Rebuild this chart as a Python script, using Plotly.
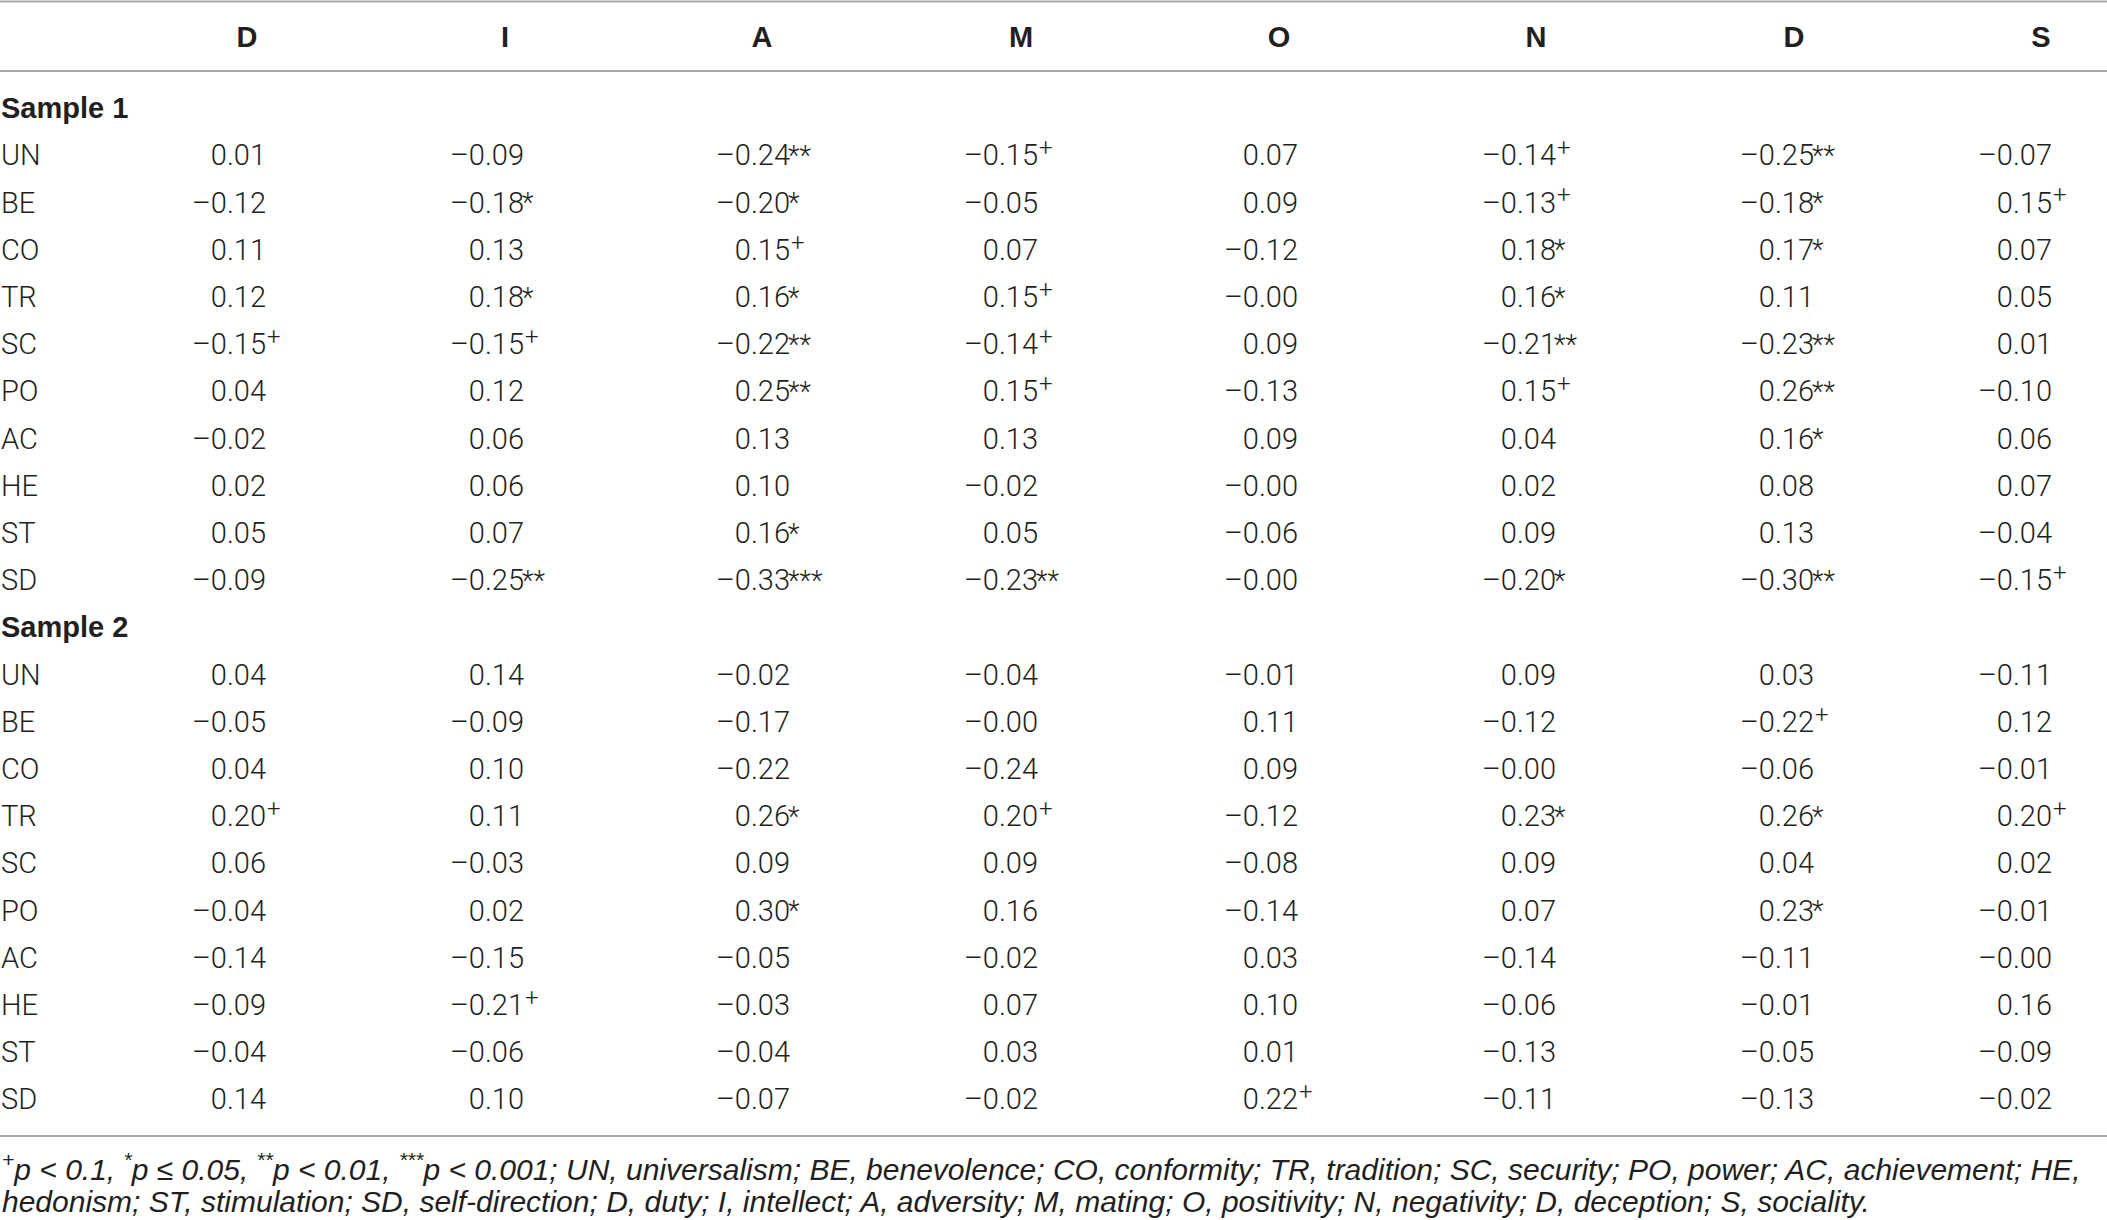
import plotly.graph_objects as go

# Correlations between value types and situation perception (DIAMONDS)
columns = ["D", "I", "A", "M", "O", "N", "D", "S"]
row_labels = ["UN", "BE", "CO", "TR", "SC", "PO", "AC", "HE", "ST", "SD"]
samples = ["Sample 1", "Sample 2"]

sample1_r = [
    [0.01, -0.09, -0.24, -0.15, 0.07, -0.14, -0.25, -0.07],
    [-0.12, -0.18, -0.20, -0.05, 0.09, -0.13, -0.18, 0.15],
    [0.11, 0.13, 0.15, 0.07, -0.12, 0.18, 0.17, 0.07],
    [0.12, 0.18, 0.16, 0.15, -0.00, 0.16, 0.11, 0.05],
    [-0.15, -0.15, -0.22, -0.14, 0.09, -0.21, -0.23, 0.01],
    [0.04, 0.12, 0.25, 0.15, -0.13, 0.15, 0.26, -0.10],
    [-0.02, 0.06, 0.13, 0.13, 0.09, 0.04, 0.16, 0.06],
    [0.02, 0.06, 0.10, -0.02, -0.00, 0.02, 0.08, 0.07],
    [0.05, 0.07, 0.16, 0.05, -0.06, 0.09, 0.13, -0.04],
    [-0.09, -0.25, -0.33, -0.23, -0.00, -0.20, -0.30, -0.15],
]
sample1_sig = [
    ["", "", "**", "+", "", "+", "**", ""],
    ["", "*", "*", "", "", "+", "*", "+"],
    ["", "", "+", "", "", "*", "*", ""],
    ["", "*", "*", "+", "", "*", "", ""],
    ["+", "+", "**", "+", "", "**", "**", ""],
    ["", "", "**", "+", "", "+", "**", ""],
    ["", "", "", "", "", "", "*", ""],
    ["", "", "", "", "", "", "", ""],
    ["", "", "*", "", "", "", "", ""],
    ["", "**", "***", "**", "", "*", "**", "+"],
]

sample2_r = [
    [0.04, 0.14, -0.02, -0.04, -0.01, 0.09, 0.03, -0.11],
    [-0.05, -0.09, -0.17, -0.00, 0.11, -0.12, -0.22, 0.12],
    [0.04, 0.10, -0.22, -0.24, 0.09, -0.00, -0.06, -0.01],
    [0.20, 0.11, 0.26, 0.20, -0.12, 0.23, 0.26, 0.20],
    [0.06, -0.03, 0.09, 0.09, -0.08, 0.09, 0.04, 0.02],
    [-0.04, 0.02, 0.30, 0.16, -0.14, 0.07, 0.23, -0.01],
    [-0.14, -0.15, -0.05, -0.02, 0.03, -0.14, -0.11, -0.00],
    [-0.09, -0.21, -0.03, 0.07, 0.10, -0.06, -0.01, 0.16],
    [-0.04, -0.06, -0.04, 0.03, 0.01, -0.13, -0.05, -0.09],
    [0.14, 0.10, -0.07, -0.02, 0.22, -0.11, -0.13, -0.02],
]
sample2_sig = [
    ["", "", "", "", "", "", "", ""],
    ["", "", "", "", "", "", "+", ""],
    ["", "", "", "", "", "", "", ""],
    ["+", "", "*", "+", "", "*", "*", "+"],
    ["", "", "", "", "", "", "", ""],
    ["", "", "*", "", "", "", "*", ""],
    ["", "", "", "", "", "", "", ""],
    ["", "+", "", "", "", "", "", ""],
    ["", "", "", "", "", "", "", ""],
    ["", "", "", "", "+", "", "", ""],
]

footnote = [
    "<sup>+</sup>p < 0.1, <sup>*</sup>p ≤ 0.05, <sup>**</sup>p < 0.01, <sup>***</sup>p < 0.001; "
    "UN, universalism; BE, benevolence; CO, conformity; TR, tradition; SC, security; "
    "PO, power; AC, achievement; HE,",
    "hedonism; ST, stimulation; SD, self-direction; D, duty; I, intellect; A, adversity; "
    "M, mating; O, positivity; N, negativity; D, deception; S, sociality.",
]

W, H = 2107, 1220
BODY = "Roboto, Liberation Sans, sans-serif"
BOLD = "Liberation Sans, Arial, sans-serif"
NOTE = "Liberation Sans Narrow, Arial Narrow, sans-serif"
INK = "#231f20"
RULE = "#a8a8a8"

# layout (pixels)
head_x = [247, 505, 762, 1021, 1279, 1536, 1794, 2041]
num_right = [266, 524, 790, 1038, 1298, 1556, 1814, 2052]
head_y = 40
first_title_y = 111
step = 47.2


def fmt(v):
    return f"{v:.2f}".replace("-", "–")


num_x, num_y, num_t = [], [], []
sig_x, sig_y, sig_t, sig_size = [], [], [], []
lab_x, lab_y, lab_t = [], [], []
title_y = []

for k, (vals, sigs) in enumerate([(sample1_r, sample1_sig), (sample2_r, sample2_sig)]):
    ty = first_title_y + k * (len(row_labels) + 1) * step
    title_y.append(ty)
    for i, lab in enumerate(row_labels):
        y = ty + (i + 1) * step
        lab_x.append(1)
        lab_y.append(y)
        lab_t.append(lab)
        for j in range(len(columns)):
            num_x.append(num_right[j])
            num_y.append(y)
            num_t.append(fmt(vals[i][j]))
            s = sigs[i][j]
            if s:
                plus = s == "+"
                sig_x.append(num_right[j] + (1 if plus else -2))
                sig_y.append(y - (8 if plus else 0))
                sig_t.append(s)
                sig_size.append(24 if plus else 27)

fig = go.Figure()

fig.add_trace(go.Scatter(
    x=head_x, y=[head_y] * len(columns), mode="text",
    text=[f"<b>{c}</b>" for c in columns], textposition="middle center",
    textfont=dict(family=BOLD, size=29, color=INK), hoverinfo="skip"))

fig.add_trace(go.Scatter(
    x=[1] * len(samples), y=title_y, mode="text",
    text=[f"<b>{s}</b>" for s in samples], textposition="middle right",
    textfont=dict(family=BOLD, size=29, color=INK), hoverinfo="skip"))

fig.add_trace(go.Scatter(
    x=lab_x, y=lab_y, mode="text", text=lab_t, textposition="middle right",
    textfont=dict(family=BODY, size=29, color=INK, weight=300), hoverinfo="skip"))

fig.add_trace(go.Scatter(
    x=num_x, y=num_y, mode="text", text=num_t, textposition="middle left",
    textfont=dict(family=BODY, size=29, color=INK, weight=300), hoverinfo="skip"))

fig.add_trace(go.Scatter(
    x=sig_x, y=sig_y, mode="text", text=sig_t, textposition="middle right",
    textfont=dict(family=BODY, size=sig_size, color=INK, weight=300), hoverinfo="skip"))

for y in [1.5, 71, 1136]:
    fig.add_shape(type="line", x0=0, x1=W, y0=y, y1=y, xref="x", yref="y",
                  line=dict(color=RULE, width=2))

for i, line in enumerate(footnote):
    fig.add_annotation(
        x=0, y=1167 + i * 34, xref="x", yref="y", text=f"<i>{line}</i>",
        showarrow=False, xanchor="left", yanchor="middle",
        font=dict(family=NOTE, size=30, color=INK))

fig.update_layout(
    width=W, height=H, margin=dict(l=0, r=0, t=0, b=0),
    paper_bgcolor="white", plot_bgcolor="white", showlegend=False,
    xaxis=dict(range=[0, W], visible=False, fixedrange=True),
    yaxis=dict(range=[H, 0], visible=False, fixedrange=True),
)

fig.write_html("out.html", config={"displayModeBar": False},
               post_script="document.body.style.margin='0';")
